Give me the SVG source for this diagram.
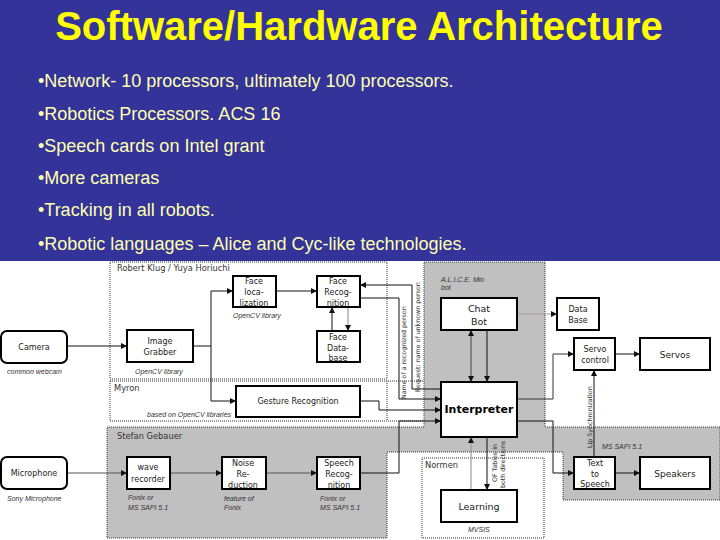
<svg xmlns="http://www.w3.org/2000/svg" width="720" height="540" viewBox="0 0 720 540">
<style>
.t{font-family:"Liberation Sans",Arial,sans-serif}
.title{font-size:40px;font-weight:700;fill:#ffff00;text-anchor:middle}
.b{font-size:18px;fill:#ffffb0}
.box{fill:#fff;stroke:#000;stroke-width:2}
.n{font-family:"DejaVu Sans",sans-serif;font-size:8px;fill:#222;text-anchor:middle}
.s{font-family:"Liberation Sans",Arial,sans-serif;font-size:7px;font-style:italic;fill:#333}
.h{font-family:"DejaVu Sans",sans-serif;font-size:8.300px;fill:#333}
.v{font-family:"DejaVu Sans",sans-serif;font-size:6.300px;fill:#333}
.d{fill:none;stroke:#333;stroke-width:1;stroke-dasharray:1 1}
.c{fill:none;stroke:#111;stroke-width:1;marker-end:url(#a)}
.l{fill:none;stroke:#111;stroke-width:1}
.g{fill:none;stroke:#999;stroke-width:1.2;marker-end:url(#a)}
</style>
<defs>
<marker id="a" markerUnits="userSpaceOnUse" markerWidth="7" markerHeight="6" refX="6" refY="3" orient="auto"><path d="M0 0L6 3L0 6Z" fill="#111"/></marker>
<marker id="s" markerUnits="userSpaceOnUse" markerWidth="7" markerHeight="6" refX="0" refY="3" orient="auto"><path d="M6 0L0 3L6 6Z" fill="#111"/></marker>
</defs>
<rect width="720" height="540" fill="#fff"/>
<rect width="720" height="261" fill="#333399"/>
<text class="t title" x="359" y="39.500">Software/Hardware Architecture</text>
<g class="t b">
<text x="38" y="87">•Network- 10 processors, ultimately 100 processors.</text>
<text x="38" y="120">•Robotics Processors. ACS 16</text>
<text x="38" y="152">•Speech cards on Intel grant</text>
<text x="38" y="184">•More cameras</text>
<text x="38" y="216">•Tracking in all robots.</text>
<text x="38" y="250">•Robotic languages – Alice and Cyc-like technologies.</text>
</g>
<path fill="#c0c0c0" d="M107 427H424V262H545V427H720V500H563V452H387V538H107Z"/>
<g id="regions">
<path class="d" d="M107 427H424V262H545V427H720V500H563V452H387V538H107Z"/>
<rect class="d" x="110" y="262" width="277" height="117"/>
<path class="d" d="M110 381H424M110 381V421H424M387 381V421"/>
<rect class="d" x="422" y="458" width="122" height="80"/>
</g>
<g id="connectors">
<path class="c" d="M67 346H127"/>
<path class="l" d="M193 346H211"/>
<path class="c" d="M211 346V291H233"/>
<path class="c" d="M211 346V401H236"/>
<path class="c" d="M276 291H317"/>
<path class="c" d="M332 331V307"/>
<path class="g" d="M348 307V331"/>
<path class="c" d="M441 389H412V285H360"/>
<path class="c" d="M360 298H399V399H441"/>
<path class="c" d="M360 401H379V410H441"/>
<path class="c" d="M360 473H399V421H441"/>
<path class="c" d="M471 330V382" marker-start="url(#s)" style="stroke:#444"/>
<path class="c" d="M487 330V382"/>
<path class="c" d="M517 314H557" style="stroke:#a99"/>
<path class="c" d="M517 399H553V354H574" style="stroke:#333"/>
<path class="c" d="M517 421H553V473H574"/>
<path class="c" d="M594 457V370"/>
<path class="c" d="M615 354H640"/>
<path class="c" d="M615 473H640"/>
<path class="c" d="M67 473H127" style="stroke:#555"/>
<path class="c" d="M170 473H222" style="stroke:#555"/>
<path class="c" d="M266 473H317" style="stroke:#555"/>
<path class="g" d="M471 490V437"/>
<path class="c" d="M487 437V490"/>
</g>
<g id="camera"><rect class="box" x="1" y="331" width="66" height="32" rx="6"/><text class="n" x="34" y="350">Camera</text></g>
<text class="s" x="7" y="374">common webcam</text>
<g id="image-grabber"><rect class="box" x="127" y="330" width="66" height="32"/><text class="n" x="160" y="344">Image</text><text class="n" x="160" y="355">Grabber</text></g>
<text class="s" x="135" y="374">OpenCV library</text>
<text class="h" x="117" y="271">Robert Klug / Yuya Horiuchi</text>
<text class="h" x="114" y="391">Myron</text>
<text class="h" x="117" y="439">Stefan Gebauer</text>
<g id="face-localization"><rect class="box" x="233" y="276" width="43" height="31"/><text class="n" x="254" y="284">Face</text><text class="n" x="254" y="295">loca-</text><text class="n" x="254" y="306">lization</text></g>
<text class="s" x="233" y="318">OpenCV library</text>
<g id="face-recognition"><rect class="box" x="317" y="276" width="43" height="31"/><text class="n" x="338" y="284">Face</text><text class="n" x="338" y="295">Recog-</text><text class="n" x="338" y="306">nition</text></g>
<g id="face-database"><rect class="box" x="317" y="331" width="43" height="31"/><text class="n" x="338" y="340">Face</text><text class="n" x="338" y="351">Data-</text><text class="n" x="338" y="361">base</text></g>
<g id="gesture-recognition"><rect class="box" x="236" y="386" width="124" height="31"/><text class="n" x="298" y="404">Gesture Recognition</text></g>
<text class="s" x="147" y="417">based on OpenCV libraries</text>
<g id="chat-bot"><rect class="box" x="441" y="298" width="76" height="32"/><text class="n" style="font-size:9.500px" x="479" y="312">Chat</text><text class="n" style="font-size:9.500px" x="479" y="325">Bot</text></g>
<text class="s" x="441" y="282">A.L.I.C.E. Mio</text>
<text class="s" x="441" y="290">bot</text>
<g id="interpreter"><rect class="box" x="441" y="382" width="76" height="55"/><text class="n" style="font-size:11px;font-weight:700;fill:#000" x="479" y="413">Interpreter</text></g>
<g id="data-base"><rect class="box" x="557" y="298" width="42" height="32"/><text class="n" x="578" y="312">Data</text><text class="n" x="578" y="323">Base</text></g>
<g id="servo-control"><rect class="box" x="574" y="338" width="41" height="32"/><text class="n" x="595" y="352">Servo</text><text class="n" x="595" y="363">control</text></g>
<g id="servos"><rect class="box" x="640" y="338" width="70" height="32"/><text class="n" style="font-size:9px" x="675" y="358">Servos</text></g>
<g id="microphone"><rect class="box" x="1" y="457" width="66" height="32" rx="6"/><text class="n" x="34" y="476">Microphone</text></g>
<text class="s" x="7" y="501">Sony Microphone</text>
<g id="wave-recorder"><rect class="box" x="127" y="457" width="43" height="32"/><text class="n" x="148" y="470">wave</text><text class="n" x="148" y="482">recorder</text></g>
<text class="s" x="128" y="500">Fonix or</text><text class="s" x="128" y="510">MS SAPI 5.1</text>
<g id="noise-reduction"><rect class="box" x="222" y="457" width="44" height="32"/><text class="n" x="243" y="466">Noise</text><text class="n" x="243" y="477">Re-</text><text class="n" x="243" y="488">duction</text></g>
<text class="s" x="224" y="501">feature of</text><text class="s" x="224" y="510">Fonix</text>
<g id="speech-recognition"><rect class="box" x="317" y="457" width="43" height="32"/><text class="n" x="339" y="466">Speech</text><text class="n" x="339" y="477">Recog-</text><text class="n" x="339" y="488">nition</text></g>
<text class="s" x="320" y="501">Fonix or</text><text class="s" x="320" y="510">MS SAPI 5.1</text>
<g id="learning"><rect class="box" x="441" y="490" width="76" height="32"/><text class="n" style="font-size:9.500px" x="479" y="510">Learning</text></g>
<text class="h" x="425" y="468">Normen</text>
<text class="s" x="468" y="532">MVSIS</text>
<g id="text-to-speech"><rect class="box" x="574" y="457" width="41" height="32"/><text class="n" x="595" y="466">Text</text><text class="n" x="595" y="477">to</text><text class="n" x="595" y="487">Speech</text></g>
<g id="speakers"><rect class="box" x="640" y="457" width="70" height="32"/><text class="n" style="font-size:9px" x="675" y="477">Speakers</text></g>
<text class="s" x="602" y="449">MS SAPI 5.1</text>
<text class="v" transform="translate(406 399) rotate(-90)">Name of a recognized person</text>
<text class="v" transform="translate(420 392) rotate(-90)">Request: name of unknown person</text>
<text class="v" transform="translate(592 448) rotate(-90)">Lip Synchronization</text>
<text class="v" transform="translate(497 482) rotate(-90)">OF Tables in</text>
<text class="v" transform="translate(505 488) rotate(-90)">both directions</text>
</svg>
